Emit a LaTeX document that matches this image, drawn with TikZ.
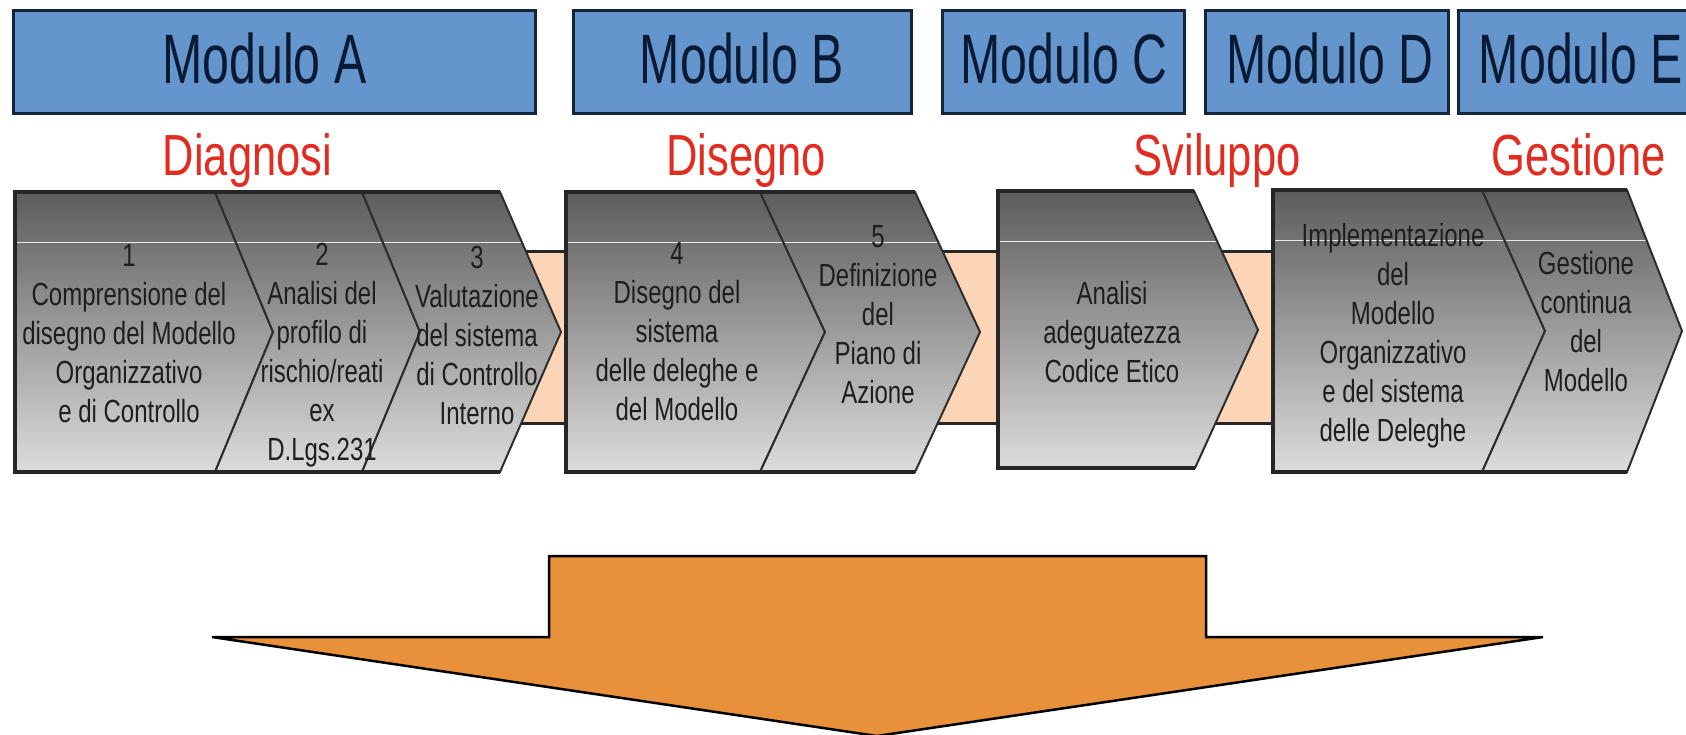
\documentclass[tikz,border=0pt]{standalone}
\usepackage{fontspec}
\setmainfont{Liberation Sans}
\newfontfamily\modfont[FakeStretch=0.69]{Liberation Sans}
\newfontfamily\redfont[FakeStretch=0.75]{Liberation Sans}
\newfontfamily\chfont[FakeStretch=0.75]{Liberation Sans}
\definecolor{modblue}{RGB}{100,150,205}
\definecolor{modedge}{RGB}{22,36,60}
\definecolor{modink}{RGB}{10,26,52}
\definecolor{phasered}{RGB}{226,44,32}
\definecolor{chtop}{RGB}{92,92,92}
\definecolor{chbot}{RGB}{220,220,220}
\definecolor{chedge}{RGB}{45,45,45}
\definecolor{peach}{RGB}{251,213,181}
\definecolor{arroworange}{RGB}{232,145,58}
\definecolor{chink}{RGB}{30,30,30}
\begin{document}
\begin{tikzpicture}[x=1pt,y=-1pt,
  modbox/.style={fill=modblue,draw=modedge,line width=3pt},
  modlabel/.style={font=\modfont\fontsize{70}{80}\selectfont,text=modink,anchor=base,inner sep=0pt},
  phase/.style={font=\redfont\fontsize{58}{66}\selectfont,text=phasered,anchor=base,inner sep=0pt},
  chev/.style={top color=chtop,bottom color=chbot,draw=chedge,line width=2pt,
     path picture={\draw[white,opacity=.85,line width=1.2pt]
        ([yshift=-50.5pt]path picture bounding box.north west) -- ([yshift=-50.5pt]path picture bounding box.north east);}},
  groupedge/.style={draw=black!85,line width=3.5pt},
  chlabel/.style={font=\chfont\fontsize{32}{39}\selectfont,text=chink,align=center,inner sep=0pt},
  band/.style={fill=peach},
  bandedge/.style={draw=black!85,line width=3pt},
  bigarrow/.style={fill=arroworange,draw=black,line width=2.5pt}
]
\useasboundingbox (0,0) rectangle (1686,734);
\clip (0,0) rectangle (1686,734);
\fill[white] (0,0) rectangle (1686,734);

% module boxes
\draw[modbox] (13,10) rectangle (535,113);
\draw[modbox] (573,10) rectangle (911,113);
\draw[modbox] (942,10) rectangle (1184,113);
\draw[modbox] (1205,10) rectangle (1448,113);
\draw[modbox] (1458,10) rectangle (1700,113);
\node[modlabel] (ma) at (264.5,83) {Modulo A};
\node[modlabel] (mb) at (742,83) {Modulo B};
\node[modlabel] (mc) at (1064,83) {Modulo C};
\node[modlabel] (md) at (1330,83) {Modulo D};
\node[modlabel] (me) at (1581,83) {Modulo E};

% phase labels
\node[phase] (ph1) at (247.5,175) {Diagnosi};
\node[phase] (ph2) at (746,175) {Disegno};
\node[phase] (ph3) at (1217,175) {Sviluppo};
\node[phase] (ph4) at (1578.5,175) {Gestione};

% peach band
\fill[band] (480,251) rectangle (1300,423);
\draw[bandedge] (480,251) -- (1300,251) (480,423) -- (1300,423);

% group 1
\path[chev] (15,192) -- (215,192) -- (273,332) -- (215,472) -- (15,472) -- cycle;
\path[chev] (215,192) -- (362,192) -- (420,332) -- (362,472) -- (215,472) -- (273,332) -- cycle;
\path[chev] (362,192) -- (500,192) -- (561,332) -- (500,472) -- (362,472) -- (420,332) -- cycle;
\draw[groupedge] (500,192) -- (15,192) -- (15,472) -- (500,472);
% group 2
\path[chev] (566,192) -- (760,192) -- (825,332) -- (760,472) -- (566,472) -- cycle;
\path[chev] (760,192) -- (915,192) -- (980,332) -- (915,472) -- (760,472) -- (825,332) -- cycle;
\draw[groupedge] (915,192) -- (566,192) -- (566,472) -- (915,472);
% group 3
\path[chev] (998,191) -- (1194,191) -- (1258,330) -- (1195,468) -- (998,468) -- cycle;
\draw[groupedge] (1194,191) -- (998,191) -- (998,468) -- (1195,468);
% group 4
\path[chev] (1273,190) -- (1482,190) -- (1545,331) -- (1482,472) -- (1273,472) -- cycle;
\path[chev] (1482,190) -- (1627,190) -- (1682,331) -- (1627,472) -- (1482,472) -- (1545,331) -- cycle;
\draw[groupedge] (1627,190) -- (1273,190) -- (1273,472) -- (1627,472);

% chevron texts
\node[chlabel] (t1) at (129,334) {1\\Comprensione del\\disegno del Modello\\Organizzativo\\e di Controllo};
\node[chlabel] (t2) at (322,355) {2\\Analisi del\\profilo di\\rischio/reati\\ex\\D.Lgs.231};
\node[chlabel] (t3) at (477,335) {3\\Valutazione\\del sistema\\di Controllo\\Interno};
\node[chlabel] (t4) at (677,332) {4\\Disegno del\\sistema\\delle deleghe e\\del Modello};
\node[chlabel] (t5) at (878,315) {5\\Definizione\\del\\Piano di\\Azione};
\node[chlabel] (t6) at (1112,332) {Analisi\\adeguatezza\\Codice Etico};
\node[chlabel] (t7) at (1393,336) {Implementazione\\del\\Modello\\Organizzativo\\e del sistema\\delle Deleghe};
\node[chlabel] (t8) at (1586,322) {Gestione\\continua\\del\\Modello};

% big arrow
\draw[bigarrow] (549,556) -- (1206,556) -- (1206,637) -- (1543,637) -- (877,736) -- (212,637) -- (549,637) -- cycle;
\end{tikzpicture}
\end{document}
